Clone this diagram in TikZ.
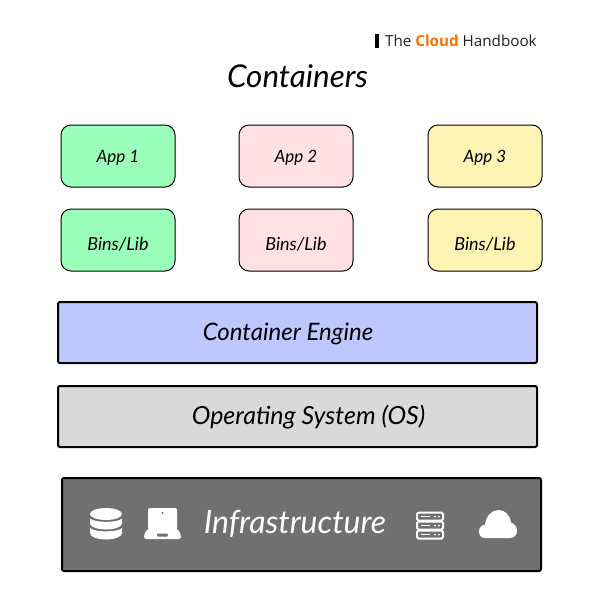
\documentclass[tikz,border=0pt]{standalone}
\usepackage{fontspec}
\setmainfont{Open Sans}
\newfontfamily\handfont{Lato}[ItalicFont=* Italic]
\definecolor{cgreen}{HTML}{99FFB9}
\definecolor{cpink}{HTML}{FFE0E3}
\definecolor{cyellow}{HTML}{FFF4B3}
\definecolor{cblue}{HTML}{BFC7FF}
\definecolor{cgrey}{HTML}{D9D9D9}
\definecolor{cdark}{HTML}{707070}
\definecolor{corange}{HTML}{FF6D00}
\definecolor{cink}{HTML}{1E1E1E}
\tikzset{
  smallbox/.style={draw=black,line width=1pt,rounded corners=10pt,minimum width=114pt,minimum height=62pt,inner sep=0pt,anchor=center,text=black,text height=12pt,text depth=0pt,font=\handfont\itshape\fontsize{17}{20}\selectfont},
  binbox/.style={smallbox,text height=20pt,font=\handfont\itshape\fontsize{18}{20}\selectfont},
  bigbox/.style={draw=black,line width=2pt,rounded corners=2pt,minimum width=479pt,inner sep=0pt,anchor=center,text height=15pt,text depth=0pt,font=\handfont\itshape\fontsize{24}{28}\selectfont},
  iconfill/.style={fill=white,draw=none},
  iconline/.style={draw=white,line width=2pt,rounded corners=1.5pt,fill=none}
}
\begin{document}
\begin{tikzpicture}[x=1pt,y=-1pt]
\useasboundingbox (0,0) rectangle (600,600);
% header
\node[fill=black,minimum width=3.5pt,minimum height=14pt,inner sep=0pt] (bar) at (377,41) {};
\node[anchor=west,inner sep=0pt,text=cink,font=\fontsize{15.2}{17}\selectfont] (brand) at (385,41) {The \textcolor{corange}{\textbf{Cloud}} Handbook};
\node[inner sep=0pt,text height=18pt,text depth=0pt,font=\handfont\itshape\fontsize{31.4}{36}\selectfont] (title) at (297.5,78) {Containers};
% apps
\node[smallbox,fill=cgreen] (app1) at (118,156) {App 1};
\node[smallbox,fill=cpink] (app2) at (296,156) {App 2};
\node[smallbox,fill=cyellow] (app3) at (485,156) {App 3};
\node[binbox,fill=cgreen] (bin1) at (118,240) {Bins/Lib};
\node[binbox,fill=cpink] (bin2) at (296,240) {Bins/Lib};
\node[binbox,fill=cyellow] (bin3) at (485,240) {Bins/Lib};
% layers
\node[bigbox,fill=cblue,minimum height=61pt] (engine) at (297.5,332.5) {\hspace{-19pt}Container Engine};
\node[bigbox,fill=cgrey,minimum height=61pt,text height=16pt] (os) at (297.5,416.5) {\hspace{22pt}\fontsize{25}{28}\selectfont Operating System (OS)};
\node[bigbox,fill=cdark,minimum height=93pt] (infra) at (301.5,524.5) {};
\node[inner sep=0pt,text=white,text height=18pt,text depth=0pt,font=\handfont\itshape\fontsize{32}{36}\selectfont] (infralabel) at (295,524) {Infrastructure};
% database icon
\fill[iconfill] (106,514) ellipse[x radius=16,y radius=6];
\fill[iconfill] (90,518.5) .. controls (94,523) and (118,523) .. (122,518.5) -- (122,523.5) .. controls (122,527) and (114,529.5) .. (106,529.5) .. controls (98,529.5) and (90,527) .. (90,523.5) -- cycle;
\fill[iconfill] (90,528) .. controls (94,532.5) and (118,532.5) .. (122,528) -- (122,533) .. controls (122,537) and (114,539.5) .. (106,539.5) .. controls (98,539.5) and (90,537) .. (90,533) -- cycle;
% laptop icon
\fill[white,rounded corners=2pt] (148,508) rectangle (177,530);
\fill[white,rounded corners=2.5pt] (147,529) -- (178,529) -- (181,535) -- (181,539) -- (144,539) -- (144,535) -- cycle;
\fill[cdark] (162.5,513) circle[radius=1.2];
\fill[cdark,rounded corners=1pt] (157,533.5) rectangle (168,536.5);
% server icon
\foreach \yy in {512.5,521.5,530.5}{
  \draw[iconline] (417,\yy) rectangle (443,\yy+8);
  \draw[white,line width=1.6pt] (421,\yy+4) -- (430,\yy+4);
  \fill[white] (435,\yy+4) circle[radius=1] (439,\yy+4) circle[radius=1];
}
% cloud icon
\fill[white] (485,538) .. controls (481,538) and (479,535) .. (479,531.5) .. controls (479,527.5) and (482,525) .. (485,524.5) .. controls (486,516) and (492,510) .. (498.5,510) .. controls (505,510) and (510,515) .. (511,522.5) .. controls (515,524) and (517,527) .. (517,531) .. controls (517,535) and (514,538) .. (510,538) -- cycle;
\end{tikzpicture}
\end{document}
